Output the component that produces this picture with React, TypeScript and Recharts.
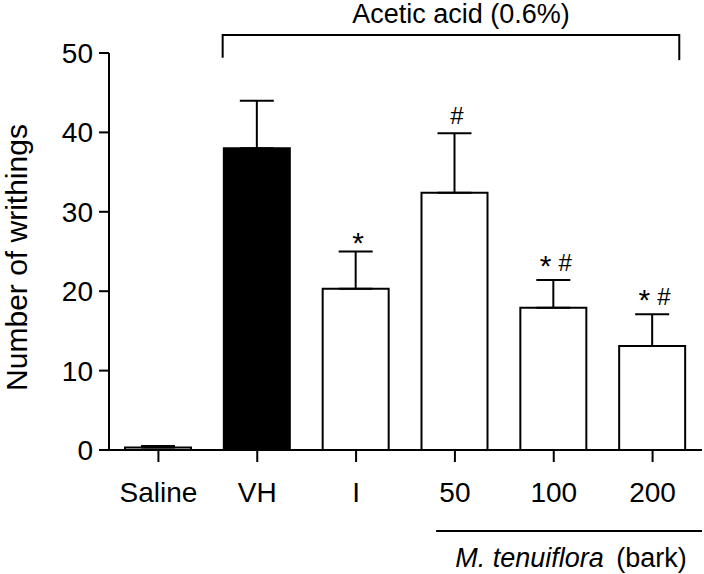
import { Bar, Cell, ComposedChart, ErrorBar, LabelList, Line, ReferenceLine, XAxis, YAxis } from 'recharts'

const groups = ['Saline', 'VH', 'I', '50', '100', '200']
const means = [0.3, 38.0, 20.3, 32.4, 17.9, 13.1]
const sems = [0.2, 6.0, 4.7, 7.5, 3.5, 4.0]
const marks = ['', '', '*', '#', '* #', '* #']
const yTicks = [0, 10, 20, 30, 40, 50]

const data = groups.map((g, i) => ({
  name: g,
  pos: i + 0.5,
  mean: means[i],
  err: [0, sems[i]],
  top: means[i] + sems[i],
  mark: marks[i],
}))

const FONT = '"Liberation Sans", Arial, sans-serif'

function AceticTitle(props: any) {
  const vb = props.viewBox
  return (
    <text x={vb.x + vb.width / 2 + 10} y={vb.y - 12} textAnchor="middle" fontSize={27} fill="#000">
      Acetic acid (0.6%)
    </text>
  )
}

function BarkLabel(props: any) {
  const vb = props.viewBox
  return (
    <text x={vb.x + vb.width / 2 + 2} y={vb.y + 36} textAnchor="middle" fontSize={27} fill="#000">
      <tspan fontStyle="italic">M. tenuiflora</tspan>
      <tspan dx={5}>{'\u00a0(bark)'}</tspan>
    </text>
  )
}

function YLabel(props: any) {
  const vb = props.viewBox
  return (
    <text transform={`translate(${vb.x + 16}, ${vb.y + vb.height / 2 + 6}) rotate(-90)`}
      textAnchor="middle" dominantBaseline="central" fontSize={30} fill="#000">
      Number of writhings
    </text>
  )
}

// significance marks: big centred asterisk, smaller hash
function Mark(props: any) {
  const { x, y, value } = props
  if (!value) return null
  const parts = String(value).split(' ')
  const shift = parts.length > 1 ? 5 : 10
  return (
    <text x={x + 2} y={y - 9} textAnchor="middle" fill="#000">
      {parts.map((p, i) => {
        let dy = p === '*' ? shift : 0
        if (i > 0 && parts[i - 1] === '*') dy -= shift
        return (
          <tspan key={i} fontSize={p === '*' ? 30 : 24} dy={dy} dx={i > 0 ? 7 : 0}>{p}</tspan>
        )
      })}
    </text>
  )
}

export default function App() {
  const line = { stroke: '#000', strokeWidth: 2 }
  return (
    <div style={{ position: 'absolute', left: 0, top: 0, background: '#fff', fontFamily: FONT }}>
      <ComposedChart width={704} height={574} data={data}
        margin={{ top: 53, right: 2, left: 0, bottom: 84 }}>
        <XAxis dataKey="name" height={40} tickSize={12} tickMargin={20} interval={0}
          axisLine={line} tickLine={line} tick={{ fontSize: 28, fill: '#000' }} />
        <XAxis xAxisId="n" dataKey="pos" type="number" domain={[0, 6]} allowDataOverflow hide />
        <YAxis domain={[0, 50]} ticks={yTicks} width={109} tickSize={10} tickMargin={6}
          axisLine={line} tickLine={line} tick={{ fontSize: 28, fill: '#000' }}
          label={YLabel} />
        <Bar dataKey="mean" barSize={66} stroke="#000" strokeWidth={2} isAnimationActive={false}>
          {data.map((d, i) => <Cell key={i} fill={d.name === 'VH' ? '#000' : '#fff'} />)}
          <ErrorBar dataKey="err" width={17} stroke="#000" strokeWidth={2} direction="y" isAnimationActive={false} />
        </Bar>
        <Line dataKey="top" stroke="none" dot={false} activeDot={false} isAnimationActive={false}>
          <LabelList dataKey="mark" content={Mark} />
        </Line>
        {/* acetic acid bracket */}
        <ReferenceLine xAxisId="n" ifOverflow="visible" stroke="#000" strokeWidth={2}
          segment={[{ x: 1.15, y: 52.27 }, { x: 5.77, y: 52.27 }]} label={AceticTitle} />
        <ReferenceLine xAxisId="n" ifOverflow="visible" stroke="#000" strokeWidth={2}
          segment={[{ x: 1.15, y: 52.4 }, { x: 1.15, y: 49.4 }]} />
        <ReferenceLine xAxisId="n" ifOverflow="visible" stroke="#000" strokeWidth={2}
          segment={[{ x: 5.77, y: 52.4 }, { x: 5.77, y: 49.1 }]} />
        {/* extract doses underline */}
        <ReferenceLine xAxisId="n" ifOverflow="visible" stroke="#000" strokeWidth={2}
          segment={[{ x: 3.31, y: -10.2 }, { x: 6, y: -10.2 }]} label={BarkLabel} />
      </ComposedChart>
    </div>
  )
}
